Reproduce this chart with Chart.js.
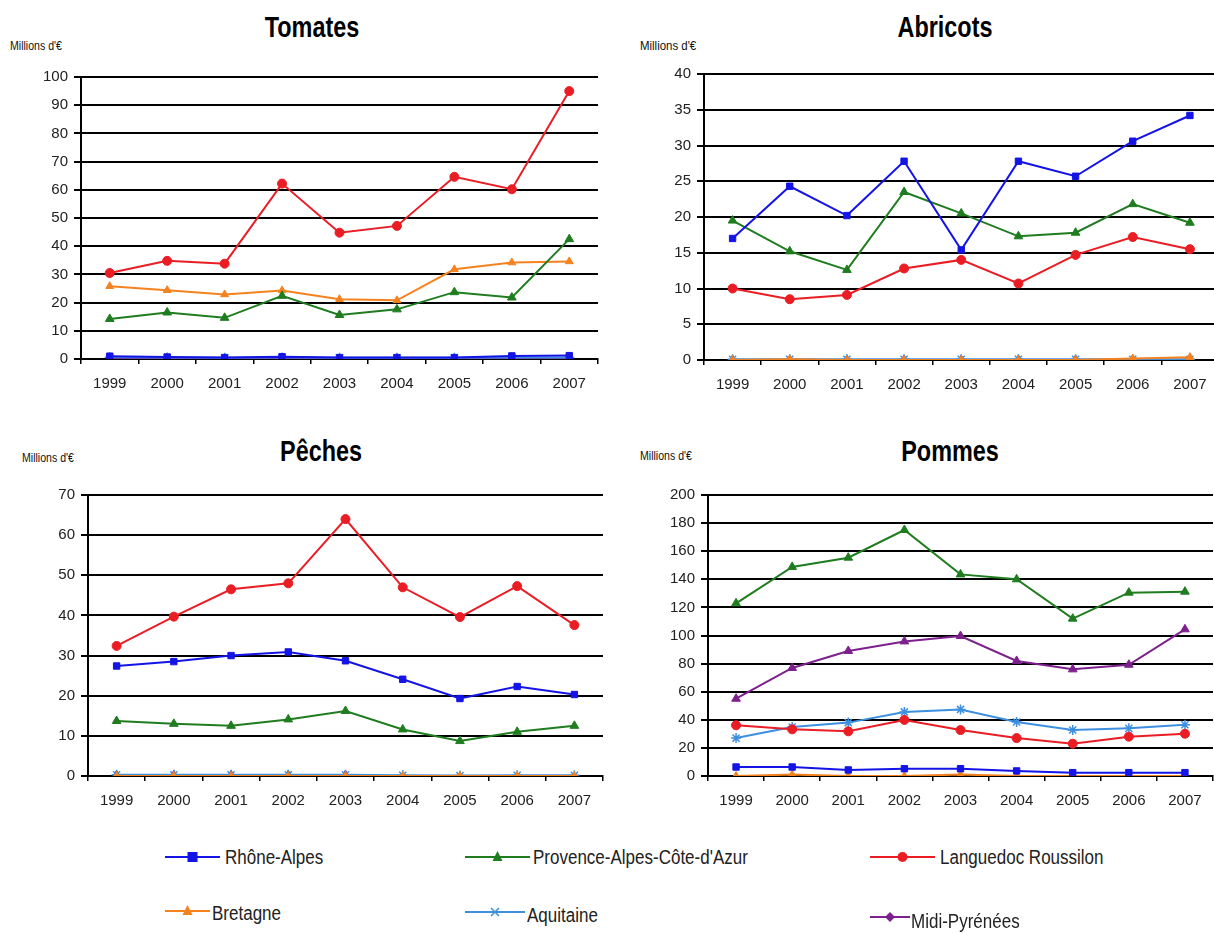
<!DOCTYPE html>
<html>
<head>
<meta charset="utf-8">
<script src="https://cdn.jsdelivr.net/npm/chart.js@4"></script>
<style>
  html, body { margin: 0; padding: 0; background: #fff; overflow: hidden; }
  body { width: 1214px; height: 933px; position: relative; font-family: "Liberation Sans", Arial, sans-serif; }
  canvas { position: absolute; }
  .title { position: absolute; font-weight: bold; font-size: 30px; line-height: 1; transform: translateX(-50%) scaleX(0.78); color: #000; }
  .unit { position: absolute; font-size: 12px; line-height: 1; color: #111; transform: scaleX(0.88); transform-origin: left top; }
  .leg { position: absolute; font-size: 20px; line-height: 1; color: #222; transform: scaleX(0.85); transform-origin: left top; white-space: nowrap; }
</style>
</head>
<body>
<div class="title" style="left:312px;top:12px">Tomates</div>
<div class="title" style="left:945px;top:12px">Abricots</div>
<div class="title" style="left:321px;top:436px">Pêches</div>
<div class="title" style="left:950px;top:436px">Pommes</div>
<div class="unit" style="left:10px;top:40px">Millions d'€</div>
<div class="unit" style="left:640px;top:39px;font-size:13px">Millions d'€</div>
<div class="unit" style="left:22px;top:452px">Millions d'€</div>
<div class="unit" style="left:640px;top:450px">Millions d'€</div>

<canvas id="tomates" width="612" height="400" style="left:0;top:0"></canvas>
<canvas id="abricots" width="615" height="400" style="left:610px;top:0"></canvas>
<canvas id="peches" width="612" height="420" style="left:0;top:400px"></canvas>
<canvas id="pommes" width="615" height="420" style="left:610px;top:400px"></canvas>
<div id="legend"></div>

<script>
const years = ["1999", "2000", "2001", "2002", "2003", "2004", "2005", "2006", "2007"];
const regions = ["Rhône-Alpes", "Provence-Alpes-Côte-d'Azur", "Languedoc Roussilon", "Bretagne", "Aquitaine", "Midi-Pyrénées"];

// Tomates
const tomRhone = [1.0, 0.7, 0.5, 0.8, 0.5, 0.5, 0.5, 1.1, 1.2];
const tomPaca = [14.2, 16.5, 14.6, 22.4, 15.6, 17.6, 23.7, 21.8, 42.5];
const tomLangue = [30.5, 34.8, 33.8, 62.2, 44.8, 47.2, 64.6, 60.2, 95.0];
const tomBret = [25.8, 24.4, 22.9, 24.3, 21.2, 20.8, 31.8, 34.2, 34.6];
const tomAquit = [0.6, 0.5, 0.4, 0.5, 0.4, 0.4, 0.4, 0.5, 0.5];
const tomMidi = [0.3, 0.3, 0.3, 0.2, 0.2, 0.2, 0.2, 0.2, 0.2];

// Abricots
const abrRhone = [17.0, 24.3, 20.2, 27.8, 15.4, 27.8, 25.7, 30.6, 34.2];
const abrPaca = [19.5, 15.2, 12.6, 23.5, 20.5, 17.3, 17.8, 21.8, 19.2];
const abrLangue = [10.0, 8.5, 9.1, 12.8, 14.0, 10.7, 14.7, 17.2, 15.5];
const abrBret = [0, 0.1, 0, 0, 0, 0, 0, 0.2, 0.4];
const abrAquit = [0.1, 0.1, 0.1, 0.1, 0.1, 0.1, 0.1, 0.1, 0.1];
const abrMidi = [0, 0, 0, 0, 0, 0, 0, 0, 0];

// Pêches
const pecRhone = [27.4, 28.5, 30.0, 30.9, 28.7, 24.1, 19.3, 22.3, 20.3];
const pecPaca = [13.7, 13.0, 12.5, 14.1, 16.2, 11.6, 8.7, 11.0, 12.5];
const pecLangue = [32.4, 39.7, 46.5, 48.0, 64.0, 47.0, 39.6, 47.3, 37.6];
const pecBret = [0, 0, 0, 0, 0, 0, 0, 0, 0];
const pecAquit = [0.3, 0.3, 0.3, 0.3, 0.3, 0.2, 0.1, 0.2, 0.2];
const pecMidi = [0.2, 0.2, 0.2, 0.2, 0.2, null, null, null, null];

// Pommes
const pomRhone = [6.4, 6.4, 4.3, 5.2, 5.2, 3.6, 2.4, 2.4, 2.4];
const pomPaca = [122.9, 148.8, 155.4, 175.1, 143.5, 140.0, 112.0, 130.5, 131.2];
const pomLangue = [36.1, 33.2, 31.8, 39.9, 32.7, 27.0, 23.0, 28.0, 30.1];
const pomBret = [0, 1, 0, 0, 1, 0, 0, 0, 0];
const pomAquit = [27.0, 34.9, 38.0, 45.6, 47.4, 38.4, 32.7, 33.9, 36.5];
const pomMidi = [55.0, 76.9, 89.0, 95.8, 99.6, 81.9, 75.9, 79.2, 104.4];

// style per region (same order as regions)
const styles = [
  { color: "#1414e6", point: "rect", radius: 4.5 },
  { color: "#1f7d1f", point: "triangle", radius: 5 },
  { color: "#ea1c24", point: "circle", radius: 4.5 },
  { color: "#f4821f", point: "triangle", radius: 4.5 },
  { color: "#3d8fe0", point: "star", radius: 5 },
  { color: "#7d1f8c", point: "triangle", radius: 5 },
];

const tickFont = { family: "'Liberation Sans', sans-serif", size: 15 };

function makeChart(id, series, maxY, stepY, box) {
  const datasets = series.map((data, i) => ({
    label: regions[i],
    data,
    borderColor: styles[i].color,
    backgroundColor: styles[i].color,
    pointBackgroundColor: styles[i].color,
    pointBorderColor: styles[i].color,
    pointStyle: styles[i].point,
    pointRadius: styles[i].radius,
    pointBorderWidth: i === 4 ? 1.5 : 1,
    borderWidth: 2,
    tension: 0,
    fill: false,
  }));
  return new Chart(document.getElementById(id), {
    type: "line",
    data: { labels: years, datasets },
    options: {
      responsive: false,
      animation: false,
      layout: { padding: { left: 0, right: box.right, top: box.top, bottom: 0 } },
      plugins: { legend: { display: false }, tooltip: { enabled: false } },
      scales: {
        x: {
          offset: true,
          grid: { offset: true, drawOnChartArea: false, color: "#000", lineWidth: 1.5, tickLength: 5 },
          border: { color: "#000", width: 2 },
          ticks: { color: "#222", font: tickFont, padding: 11 },
          afterFit: (s) => { s.height = box.xh; },
        },
        y: {
          min: 0,
          max: maxY,
          grid: { color: "#000", lineWidth: 2, tickLength: 7 },
          border: { color: "#000", width: 2 },
          ticks: { stepSize: stepY, color: "#222", font: tickFont, padding: 6 },
          afterFit: (s) => { s.width = box.yw; },
        },
      },
    },
  });
}

makeChart("tomates", [tomRhone, tomPaca, tomLangue, tomBret, tomAquit, tomMidi], 100, 10,
  { yw: 81, right: 14, top: 77, xh: 41 });
makeChart("abricots", [abrRhone, abrPaca, abrLangue, abrBret, abrAquit, abrMidi], 40, 5,
  { yw: 94, right: 6, top: 74, xh: 40 });
makeChart("peches", [pecRhone, pecPaca, pecLangue, pecBret, pecAquit, pecMidi], 70, 10,
  { yw: 88, right: 9, top: 95, xh: 44 });
makeChart("pommes", [pomRhone, pomPaca, pomLangue, pomBret, pomAquit, pomMidi], 200, 20,
  { yw: 98, right: 12, top: 95, xh: 44 });

// legend at the bottom: line + marker drawn on a small canvas, text as html
const legendItems = [
  { i: 0, x1: 165, x2: 220, y: 857, tx: 225, ty: 857, mark: "rect" },
  { i: 1, x1: 465, x2: 530, y: 857, tx: 533, ty: 857, mark: "triangle" },
  { i: 2, x1: 870, x2: 935, y: 857, tx: 940, ty: 857, mark: "circle" },
  { i: 3, x1: 165, x2: 210, y: 911, tx: 212, ty: 913, mark: "triangle" },
  { i: 4, x1: 465, x2: 525, y: 912, tx: 527, ty: 915, mark: "cross" },
  { i: 5, x1: 870, x2: 910, y: 917, tx: 911, ty: 921, mark: "diamond" },
];
const legend = document.getElementById("legend");
legendItems.forEach((it) => {
  const c = document.createElement("canvas");
  const w = it.x2 - it.x1 + 4;
  c.width = w;
  c.height = 16;
  c.style.left = it.x1 - 2 + "px";
  c.style.top = it.y - 8 + "px";
  const ctx = c.getContext("2d");
  const col = styles[it.i].color;
  ctx.strokeStyle = col;
  ctx.fillStyle = col;
  ctx.lineWidth = 2;
  ctx.beginPath();
  ctx.moveTo(2, 8);
  ctx.lineTo(w - 2, 8);
  ctx.stroke();
  const mx = w / 2;
  ctx.beginPath();
  if (it.mark === "rect") ctx.rect(mx - 5, 3, 10, 10);
  else if (it.mark === "triangle") { ctx.moveTo(mx, 2); ctx.lineTo(mx + 5, 12); ctx.lineTo(mx - 5, 12); ctx.closePath(); }
  else if (it.mark === "circle") ctx.arc(mx, 8, 5, 0, Math.PI * 2);
  else if (it.mark === "diamond") { ctx.moveTo(mx, 3); ctx.lineTo(mx + 5, 8); ctx.lineTo(mx, 13); ctx.lineTo(mx - 5, 8); ctx.closePath(); }
  if (it.mark === "cross") {
    ctx.lineWidth = 1.5;
    ctx.moveTo(mx - 4, 4); ctx.lineTo(mx + 4, 12);
    ctx.moveTo(mx + 4, 4); ctx.lineTo(mx - 4, 12);
    ctx.stroke();
  } else ctx.fill();
  legend.appendChild(c);
  const t = document.createElement("div");
  t.className = "leg";
  t.textContent = regions[it.i];
  t.style.left = it.tx + "px";
  t.style.top = it.ty - 10 + "px";
  legend.appendChild(t);
});
</script>
</body>
</html>
